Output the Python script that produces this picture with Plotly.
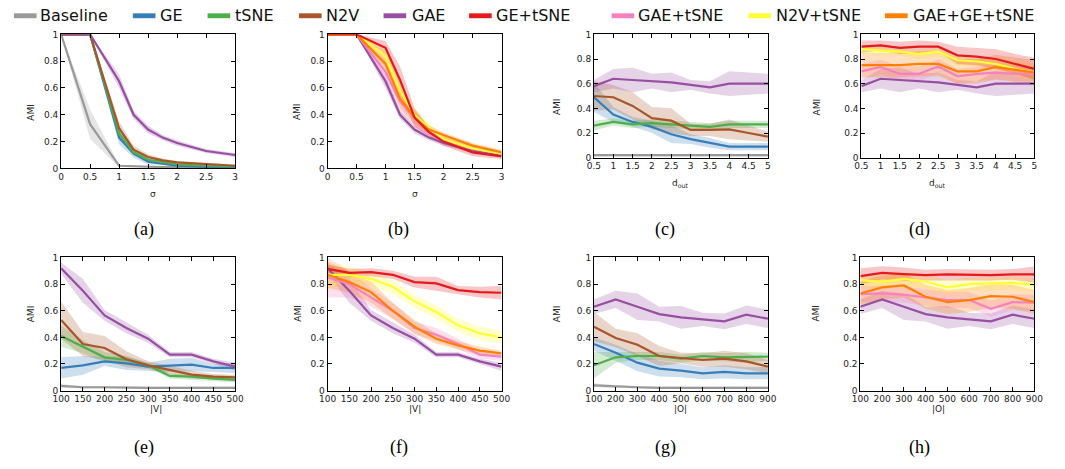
import plotly.graph_objects as go

W, H = 1065, 469

# ---------------- data ----------------
SERIES = ["Baseline", "GE", "tSNE", "N2V", "GAE", "GE+tSNE", "GAE+tSNE", "N2V+tSNE", "GAE+GE+tSNE"]
COLORS = ["#999999", "#377eb8", "#4daf4a", "#a65628", "#984ea3", "#e41a1c", "#f781bf", "#ffff33", "#ff7f00"]

SIGMA = [0, 0.5, 1, 1.25, 1.5, 1.75, 2, 2.5, 3]
D_OUT = [0.5, 1, 1.5, 2, 2.5, 3, 3.5, 4, 4.5, 5]
V_SIZE = [100, 150, 200, 250, 300, 350, 400, 450, 500]
O_SIZE = [100, 200, 300, 400, 500, 600, 700, 800, 900]

SIGMA_TICKS = [0, 0.5, 1, 1.5, 2, 2.5, 3]
DOUT_TICKS = [0.5, 1, 1.5, 2, 2.5, 3, 3.5, 4, 4.5, 5]
V_TICKS = [100, 150, 200, 250, 300, 350, 400, 450, 500]
O_TICKS = [100, 200, 300, 400, 500, 600, 700, 800, 900]
AMI_TICKS = [0, 0.2, 0.4, 0.6, 0.8, 1]

# (a) sigma, single methods
A_BASELINE = [1.0, 0.33, 0.02, 0.015, 0.01, 0.01, 0.01, 0.01, 0.01]
A_BASELINE_SD = [0.0, 0.11, 0.01, 0.005, 0.005, 0.005, 0.005, 0.005, 0.005]
A_GE = [1.0, 1.0, 0.23, 0.11, 0.05, 0.035, 0.02, 0.012, 0.01]
A_GE_SD = [0.0, 0.0, 0.05, 0.03, 0.02, 0.01, 0.01, 0.005, 0.005]
A_TSNE = [1.0, 1.0, 0.26, 0.12, 0.065, 0.045, 0.03, 0.02, 0.015]
A_TSNE_SD = [0.0, 0.0, 0.03, 0.02, 0.015, 0.01, 0.01, 0.005, 0.005]
A_N2V = [1.0, 1.0, 0.30, 0.14, 0.085, 0.06, 0.045, 0.03, 0.02]
A_N2V_SD = [0.0, 0.0, 0.05, 0.03, 0.02, 0.015, 0.01, 0.01, 0.01]
A_GAE = [1.0, 1.0, 0.65, 0.40, 0.29, 0.23, 0.19, 0.13, 0.10]
A_GAE_SD = [0.0, 0.0, 0.05, 0.03, 0.03, 0.02, 0.02, 0.015, 0.015]

# (b) sigma, combined methods
B_GE_TSNE = [1.0, 1.0, 0.90, 0.66, 0.38, 0.27, 0.20, 0.12, 0.09]
B_GE_TSNE_SD = [0.0, 0.0, 0.05, 0.10, 0.07, 0.03, 0.03, 0.03, 0.02]
B_GAE_TSNE = [1.0, 1.0, 0.72, 0.50, 0.37, 0.27, 0.22, 0.15, 0.11]
B_GAE_TSNE_SD = [0.0, 0.0, 0.10, 0.08, 0.05, 0.03, 0.03, 0.03, 0.02]
B_N2V_TSNE = [1.0, 1.0, 0.84, 0.58, 0.40, 0.30, 0.22, 0.15, 0.11]
B_N2V_TSNE_SD = [0.0, 0.0, 0.06, 0.06, 0.05, 0.04, 0.02, 0.02, 0.02]
B_GAE_GE_TSNE = [1.0, 1.0, 0.78, 0.52, 0.38, 0.29, 0.25, 0.17, 0.12]
B_GAE_GE_TSNE_SD = [0.0, 0.0, 0.07, 0.07, 0.05, 0.03, 0.02, 0.02, 0.02]

# (c) d_out, single methods
C_BASELINE = [0.02, 0.02, 0.025, 0.02, 0.02, 0.02, 0.022, 0.02, 0.02, 0.02]
C_BASELINE_SD = [0.01, 0.01, 0.01, 0.01, 0.01, 0.01, 0.01, 0.01, 0.01, 0.01]
C_GE = [0.49, 0.35, 0.29, 0.25, 0.19, 0.15, 0.12, 0.09, 0.09, 0.09]
C_GE_SD = [0.12, 0.06, 0.04, 0.05, 0.07, 0.04, 0.04, 0.03, 0.03, 0.03]
C_TSNE = [0.26, 0.29, 0.27, 0.28, 0.27, 0.26, 0.25, 0.27, 0.27, 0.27]
C_TSNE_SD = [0.04, 0.03, 0.03, 0.03, 0.03, 0.03, 0.03, 0.03, 0.03, 0.03]
C_N2V = [0.50, 0.49, 0.42, 0.32, 0.30, 0.225, 0.225, 0.23, 0.20, 0.17]
C_N2V_SD = [0.12, 0.10, 0.11, 0.09, 0.10, 0.05, 0.05, 0.08, 0.06, 0.04]
C_GAE = [0.58, 0.64, 0.63, 0.62, 0.61, 0.59, 0.57, 0.60, 0.60, 0.60]
C_GAE_SD = [0.05, 0.08, 0.10, 0.06, 0.08, 0.04, 0.05, 0.10, 0.09, 0.08]

# (d) d_out, combined methods
D_GE_TSNE = [0.90, 0.91, 0.89, 0.90, 0.90, 0.83, 0.82, 0.80, 0.76, 0.72]
D_GE_TSNE_SD = [0.05, 0.04, 0.05, 0.05, 0.04, 0.07, 0.07, 0.08, 0.08, 0.09]
D_GAE_TSNE = [0.70, 0.735, 0.68, 0.68, 0.74, 0.66, 0.68, 0.69, 0.68, 0.68]
D_GAE_TSNE_SD = [0.06, 0.06, 0.06, 0.06, 0.06, 0.06, 0.06, 0.06, 0.06, 0.06]
D_N2V_TSNE = [0.88, 0.87, 0.86, 0.84, 0.86, 0.79, 0.78, 0.76, 0.72, 0.69]
D_N2V_TSNE_SD = [0.04, 0.04, 0.03, 0.04, 0.04, 0.04, 0.04, 0.05, 0.06, 0.06]
D_GAE_GE_TSNE = [0.75, 0.75, 0.75, 0.76, 0.76, 0.70, 0.70, 0.735, 0.71, 0.69]
D_GAE_GE_TSNE_SD = [0.10, 0.10, 0.10, 0.10, 0.10, 0.10, 0.10, 0.10, 0.10, 0.10]

# (e) |V|, single methods
E_BASELINE = [0.035, 0.025, 0.025, 0.02, 0.02, 0.02, 0.02, 0.02, 0.02]
E_BASELINE_SD = [0.015, 0.01, 0.01, 0.01, 0.01, 0.01, 0.01, 0.01, 0.01]
E_GE = [0.17, 0.19, 0.22, 0.205, 0.18, 0.19, 0.195, 0.17, 0.17]
E_GE_SD = [0.08, 0.07, 0.035, 0.05, 0.03, 0.05, 0.05, 0.03, 0.04]
E_TSNE = [0.41, 0.33, 0.25, 0.23, 0.19, 0.11, 0.105, 0.09, 0.08]
E_TSNE_SD = [0.08, 0.05, 0.04, 0.03, 0.02, 0.02, 0.02, 0.02, 0.02]
E_N2V = [0.53, 0.35, 0.32, 0.235, 0.19, 0.157, 0.12, 0.105, 0.10]
E_N2V_SD = [0.14, 0.09, 0.09, 0.06, 0.03, 0.03, 0.03, 0.02, 0.02]
E_GAE = [0.92, 0.75, 0.565, 0.47, 0.39, 0.27, 0.27, 0.22, 0.18]
E_GAE_SD = [0.04, 0.09, 0.04, 0.04, 0.03, 0.02, 0.02, 0.02, 0.03]

# (f) |V|, combined methods
F_GE_TSNE = [0.915, 0.885, 0.89, 0.87, 0.815, 0.805, 0.755, 0.74, 0.735]
F_GE_TSNE_SD = [0.03, 0.03, 0.03, 0.03, 0.04, 0.05, 0.03, 0.04, 0.05]
F_GAE_TSNE = [0.85, 0.80, 0.70, 0.60, 0.47, 0.42, 0.35, 0.27, 0.255]
F_GAE_TSNE_SD = [0.15, 0.10, 0.07, 0.06, 0.05, 0.05, 0.04, 0.03, 0.03]
F_N2V_TSNE = [0.87, 0.87, 0.84, 0.78, 0.67, 0.59, 0.49, 0.43, 0.40]
F_N2V_TSNE_SD = [0.10, 0.06, 0.05, 0.05, 0.05, 0.05, 0.05, 0.05, 0.05]
F_GAE_GE_TSNE = [0.87, 0.815, 0.74, 0.60, 0.48, 0.39, 0.34, 0.30, 0.28]
F_GAE_GE_TSNE_SD = [0.10, 0.08, 0.08, 0.06, 0.05, 0.04, 0.03, 0.03, 0.02]

# (g) |O|, single methods
G_BASELINE = [0.04, 0.03, 0.025, 0.02, 0.02, 0.02, 0.02, 0.02, 0.02]
G_BASELINE_SD = [0.015, 0.01, 0.01, 0.01, 0.01, 0.01, 0.01, 0.01, 0.01]
G_GE = [0.35, 0.285, 0.21, 0.165, 0.15, 0.13, 0.14, 0.13, 0.13]
G_GE_SD = [0.05, 0.06, 0.065, 0.06, 0.05, 0.045, 0.05, 0.045, 0.045]
G_TSNE = [0.19, 0.25, 0.26, 0.26, 0.24, 0.26, 0.25, 0.25, 0.255]
G_TSNE_SD = [0.10, 0.04, 0.03, 0.03, 0.03, 0.03, 0.03, 0.04, 0.03]
G_N2V = [0.48, 0.395, 0.345, 0.26, 0.245, 0.23, 0.24, 0.22, 0.18]
G_N2V_SD = [0.11, 0.07, 0.085, 0.075, 0.04, 0.05, 0.06, 0.06, 0.05]
G_GAE = [0.63, 0.685, 0.63, 0.575, 0.55, 0.535, 0.52, 0.57, 0.54]
G_GAE_SD = [0.055, 0.065, 0.10, 0.055, 0.085, 0.05, 0.06, 0.07, 0.07]

# (h) |O|, combined methods
H_GE_TSNE = [0.86, 0.885, 0.875, 0.868, 0.873, 0.868, 0.868, 0.873, 0.873]
H_GE_TSNE_SD = [0.06, 0.05, 0.05, 0.04, 0.04, 0.04, 0.04, 0.04, 0.06]
H_GAE_TSNE = [0.725, 0.73, 0.72, 0.70, 0.68, 0.68, 0.615, 0.665, 0.66]
H_GAE_TSNE_SD = [0.06, 0.06, 0.06, 0.06, 0.06, 0.06, 0.06, 0.06, 0.06]
H_N2V_TSNE = [0.83, 0.817, 0.84, 0.82, 0.775, 0.80, 0.805, 0.81, 0.795]
H_N2V_TSNE_SD = [0.05, 0.05, 0.05, 0.05, 0.05, 0.05, 0.05, 0.05, 0.05]
H_GAE_GE_TSNE = [0.73, 0.775, 0.79, 0.705, 0.665, 0.68, 0.71, 0.705, 0.665]
H_GAE_GE_TSNE_SD = [0.09, 0.09, 0.09, 0.09, 0.09, 0.09, 0.09, 0.09, 0.09]

PANELS = [
    ("(a)", SIGMA, SIGMA_TICKS, "σ", [("Baseline", A_BASELINE, A_BASELINE_SD), ("GE", A_GE, A_GE_SD),
                                      ("tSNE", A_TSNE, A_TSNE_SD), ("N2V", A_N2V, A_N2V_SD),
                                      ("GAE", A_GAE, A_GAE_SD)]),
    ("(b)", SIGMA, SIGMA_TICKS, "σ", [("GAE", A_GAE, A_GAE_SD), ("GAE+tSNE", B_GAE_TSNE, B_GAE_TSNE_SD),
                                      ("N2V+tSNE", B_N2V_TSNE, B_N2V_TSNE_SD),
                                      ("GAE+GE+tSNE", B_GAE_GE_TSNE, B_GAE_GE_TSNE_SD),
                                      ("GE+tSNE", B_GE_TSNE, B_GE_TSNE_SD)]),
    ("(c)", D_OUT, DOUT_TICKS, "d<sub>out</sub>", [("Baseline", C_BASELINE, C_BASELINE_SD), ("GE", C_GE, C_GE_SD),
                                                   ("tSNE", C_TSNE, C_TSNE_SD), ("N2V", C_N2V, C_N2V_SD),
                                                   ("GAE", C_GAE, C_GAE_SD)]),
    ("(d)", D_OUT, DOUT_TICKS, "d<sub>out</sub>", [("GAE", C_GAE, C_GAE_SD), ("GAE+tSNE", D_GAE_TSNE, D_GAE_TSNE_SD),
                                                   ("N2V+tSNE", D_N2V_TSNE, D_N2V_TSNE_SD),
                                                   ("GAE+GE+tSNE", D_GAE_GE_TSNE, D_GAE_GE_TSNE_SD),
                                                   ("GE+tSNE", D_GE_TSNE, D_GE_TSNE_SD)]),
    ("(e)", V_SIZE, V_TICKS, "|V|", [("Baseline", E_BASELINE, E_BASELINE_SD), ("GE", E_GE, E_GE_SD),
                                     ("tSNE", E_TSNE, E_TSNE_SD), ("N2V", E_N2V, E_N2V_SD),
                                     ("GAE", E_GAE, E_GAE_SD)]),
    ("(f)", V_SIZE, V_TICKS, "|V|", [("GAE", E_GAE, E_GAE_SD), ("GAE+tSNE", F_GAE_TSNE, F_GAE_TSNE_SD),
                                     ("N2V+tSNE", F_N2V_TSNE, F_N2V_TSNE_SD),
                                     ("GAE+GE+tSNE", F_GAE_GE_TSNE, F_GAE_GE_TSNE_SD),
                                     ("GE+tSNE", F_GE_TSNE, F_GE_TSNE_SD)]),
    ("(g)", O_SIZE, O_TICKS, "|O|", [("Baseline", G_BASELINE, G_BASELINE_SD), ("GE", G_GE, G_GE_SD),
                                     ("tSNE", G_TSNE, G_TSNE_SD), ("N2V", G_N2V, G_N2V_SD),
                                     ("GAE", G_GAE, G_GAE_SD)]),
    ("(h)", O_SIZE, O_TICKS, "|O|", [("GAE", G_GAE, G_GAE_SD), ("GAE+tSNE", H_GAE_TSNE, H_GAE_TSNE_SD),
                                     ("N2V+tSNE", H_N2V_TSNE, H_N2V_TSNE_SD),
                                     ("GAE+GE+tSNE", H_GAE_GE_TSNE, H_GAE_GE_TSNE_SD),
                                     ("GE+tSNE", H_GE_TSNE, H_GE_TSNE_SD)]),
]

# ---------------- layout geometry (pixels) ----------------
BOXES = [(53, 230, 30, 167), (324, 501, 30, 167), (595, 772, 30, 156), (867, 1043, 30, 156),
         (53, 230, 258, 394), (324, 501, 258, 394), (595, 772, 258, 394), (866, 1043, 258, 394)]
CAPTION_Y = [229, 229, 229, 229, 465, 465, 465, 465]
LEG_SWATCH_X = [5, 126, 202, 295, 381, 468, 613, 752, 891]
LEG_TEXT_X = [30, 152, 228, 320, 408, 493, 638, 778, 917]

FONT = "DejaVu Sans"
COLOR_OF = dict(zip(SERIES, COLORS))


def px(x):
    return x / W


def py(y):
    return 1 - y / H


def rgba(hexc, a):
    h = hexc.lstrip("#")
    r, g, b = int(h[0:2], 16), int(h[2:4], 16), int(h[4:6], 16)
    return f"rgba({r},{g},{b},{a})"


fig = go.Figure()
layout = {}
annotations = []
shapes = []

for i, (cap, xs, xt, xtitle, series) in enumerate(PANELS):
    n = i + 1
    xa = f"x{n}" if n > 1 else "x"
    ya = f"y{n}" if n > 1 else "y"
    x0, x1, y0, y1 = BOXES[i]
    # bands first
    for name, mean, sd in series:
        up = [min(1.0, m + s) for m, s in zip(mean, sd)]
        lo = [max(0.0, m - s) for m, s in zip(mean, sd)]
        fig.add_trace(go.Scatter(
            x=list(xs) + list(xs)[::-1], y=up + lo[::-1], fill="toself",
            fillcolor=rgba(COLOR_OF[name], 0.25), line=dict(width=0),
            mode="lines", hoverinfo="skip", showlegend=False, xaxis=xa, yaxis=ya))
    for name, mean, sd in series:
        fig.add_trace(go.Scatter(
            x=xs, y=mean, mode="lines", name=name,
            line=dict(color=COLOR_OF[name], width=2.2),
            showlegend=False, xaxis=xa, yaxis=ya))

    axstyle = dict(showline=True, linecolor="black", linewidth=1, mirror="ticks",
                   ticks="inside", ticklen=4, tickcolor="black", tickwidth=1,
                   showgrid=False, zeroline=False,
                   tickfont=dict(family=FONT, size=9, color="#222"))
    layout[f"xaxis{n}" if n > 1 else "xaxis"] = dict(
        axstyle, domain=[px(x0), px(x1)], anchor=ya, range=[xs[0], xs[-1]], tickvals=xt)
    layout[f"yaxis{n}" if n > 1 else "yaxis"] = dict(
        axstyle, domain=[py(y1), py(y0)], anchor=xa, range=[0, 1], tickvals=AMI_TICKS)

    # axis titles
    annotations.append(dict(text="AMI", x=px(x0 - 38), y=py((y0 + y1) / 2), xref="paper", yref="paper",
                            textangle=-90, showarrow=False, font=dict(family=FONT, size=9, color="#222")))
    annotations.append(dict(text=xtitle, x=px((x0 + x1) / 2), y=py(y1 + 26), xref="paper", yref="paper",
                            showarrow=False, font=dict(family=FONT, size=9, color="#222")))
    # caption
    annotations.append(dict(text=cap, x=px((x0 + x1) / 2 - 16), y=py(CAPTION_Y[i]), xref="paper",
                            yref="paper", showarrow=False,
                            font=dict(family="Liberation Serif", size=18, color="black")))

# manual legend
for name, sx, tx in zip(SERIES, LEG_SWATCH_X, LEG_TEXT_X):
    shapes.append(dict(type="rect", xref="paper", yref="paper", x0=px(sx), x1=px(sx + 23),
                       y0=py(13.5), y1=py(8.5), fillcolor=COLOR_OF[name], line=dict(width=0)))
    annotations.append(dict(text=name, x=px(tx), y=py(11), xref="paper", yref="paper", xanchor="left",
                            yanchor="middle", showarrow=False,
                            font=dict(family=FONT, size=16, color="#111")))

fig.update_layout(
    width=W, height=H, margin=dict(l=0, r=0, t=0, b=0),
    paper_bgcolor="white", plot_bgcolor="white", showlegend=False,
    annotations=annotations, shapes=shapes, **layout)

fig.write_html("out.html", config={"displayModeBar": False},
               post_script="document.body.style.margin='0';document.body.style.overflow='hidden';")
